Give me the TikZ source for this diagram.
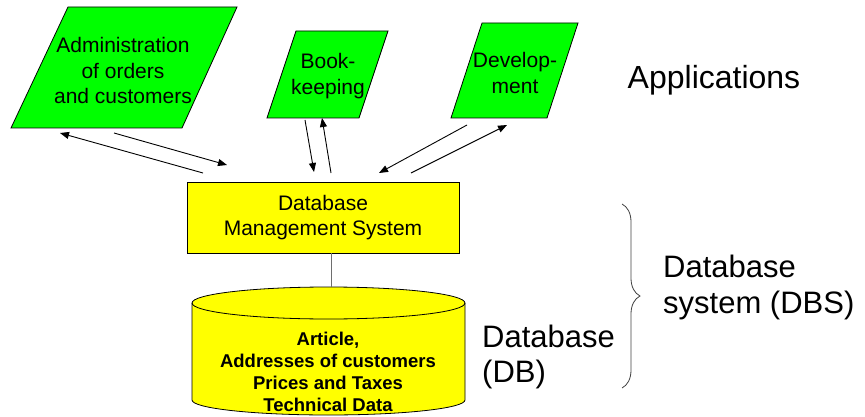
\documentclass[tikz,border=0pt]{standalone}
\usepackage{fontspec}
\setmainfont{Liberation Sans}
\usetikzlibrary{arrows.meta,decorations.pathreplacing}
\definecolor{appgreen}{RGB}{0,255,0}
\definecolor{dbyellow}{RGB}{255,255,0}
\definecolor{linkgray}{RGB}{110,110,110}

\begin{document}
\begin{tikzpicture}[x=1pt,y=-1pt,
  appshape/.style={fill=appgreen,draw=black,line width=0.8pt,line join=miter},
  apptext/.style={align=center,font=\fontsize{21}{25.5}\selectfont,inner sep=0pt},
  flow/.style={line width=0.9pt,-{Triangle[length=9pt,width=7pt]}},
  dbmsbox/.style={draw=black,fill=dbyellow,line width=0.8pt,minimum width=272pt,
    minimum height=71pt,inner sep=0pt,align=center,font=\fontsize{21}{25}\selectfont},
  dbshape/.style={fill=dbyellow,draw=black,line width=0.8pt},
  dbtext/.style={align=center,inner sep=0pt,font=\bfseries\fontsize{18.5}{22}\selectfont},
  sidelabel/.style={align=left,anchor=west,inner sep=0pt,font=\fontsize{31}{35.5}\selectfont},
  bracket/.style={draw=black!75,line width=0.8pt,decorate,decoration={brace,amplitude=18pt}}
]
\useasboundingbox (0,0) rectangle (865,417);

% applications (parallelograms)
\draw[appshape] (68,7) -- (237,7) -- (182,128) -- (11,128) -- cycle;
\node[apptext] (adm) at (123,70.5) {Administration\\of orders\\and customers};

\draw[appshape] (296,31) -- (388,31) -- (359,118) -- (267,118) -- cycle;
\node[apptext] (book) at (328,76) {Book-\\keeping};

\draw[appshape] (482,23) -- (578,23) -- (547,118) -- (451,118) -- cycle;
\node[apptext] (dev) at (515,73) {Develop-\\ment};

\node[inner sep=0pt,font=\fontsize{32}{38}\selectfont] (apps) at (714,80) {Applications};

% database management system
\node[dbmsbox] (dbms) at (323,217.5) {Database\\Management System};

% database cylinder
\draw[dbshape] (192,303) -- (192,400)
  arc[start angle=180,end angle=360,x radius=136.5pt,y radius=15pt]
  -- (465,303)
  arc[start angle=0,end angle=180,x radius=136.5pt,y radius=16pt] -- cycle;
\draw[dbshape,fill=none] (192,303)
  arc[start angle=180,end angle=360,x radius=136.5pt,y radius=16pt];
\node[dbtext] (db) at (328,371.5) {Article,\\Addresses of customers\\Prices and Taxes\\Technical Data};

% link between DBMS and database
\coordinate (dbtop) at (331,287);
\draw[linkgray,line width=0.9pt] (dbms.south -| dbtop) -- (dbtop);

% request / response arrows
\coordinate (admout) at (114,133);
\coordinate (admin) at (60,133);
\coordinate (dbmsa) at (227,165);
\coordinate (dbmsb) at (203,173);
\draw[flow] (admout) -- (dbmsa);
\draw[flow] (dbmsb) -- (admin);

\coordinate (bookout) at (305,120);
\coordinate (bookin) at (322,118);
\coordinate (dbmsc) at (314,172);
\coordinate (dbmsd) at (331,173);
\draw[flow] (bookout) -- (dbmsc);
\draw[flow] (dbmsd) -- (bookin);

\coordinate (devout) at (467,125);
\coordinate (devin) at (507,125);
\coordinate (dbmse) at (379,173);
\coordinate (dbmsf) at (411,173);
\draw[flow] (devout) -- (dbmse);
\draw[flow] (dbmsf) -- (devin);

% labels on the right
\node[sidelabel] (dblabel) at (482,357) {Database\\(DB)};
\coordinate (bracetop) at (622,204);
\coordinate (bracebot) at (622,388);
\draw[bracket] (bracetop) -- (bracebot);
\node[sidelabel] (dbslabel) at (663,287.5) {Database\\system (DBS)};
\end{tikzpicture}
\end{document}
